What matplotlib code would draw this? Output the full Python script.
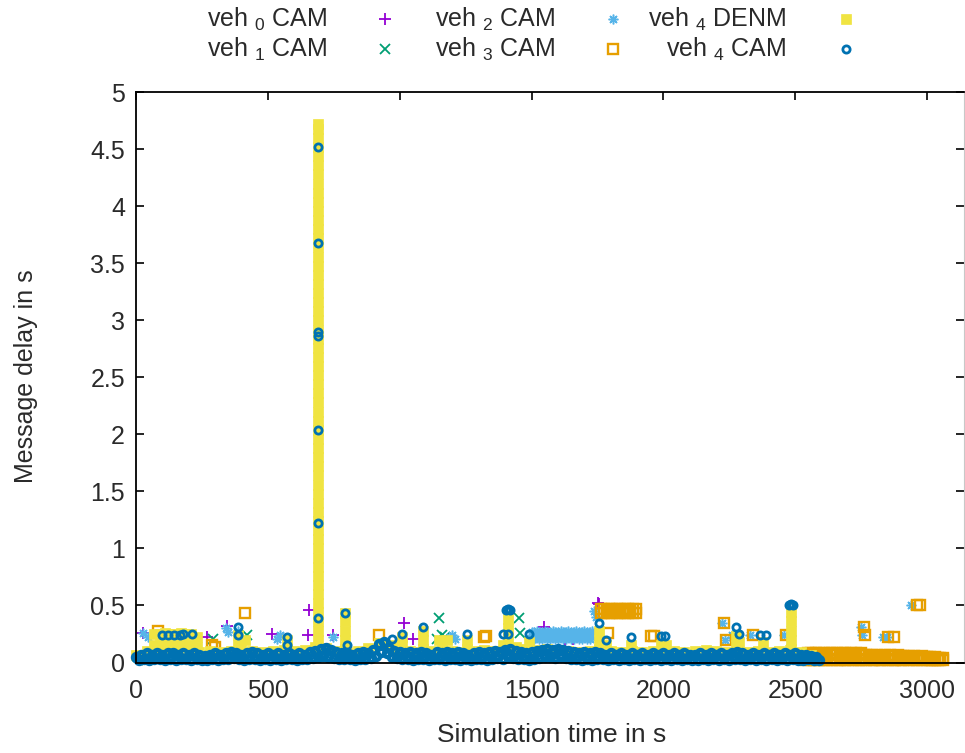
import numpy as np
import matplotlib.pyplot as plt

plt.rcParams['font.family'] = ['Liberation Sans', 'DejaVu Sans']
plt.rcParams['mathtext.fontset'] = 'custom'
plt.rcParams['mathtext.rm'] = 'Liberation Sans'
plt.rcParams['mathtext.it'] = 'Liberation Sans:italic'

# ---------------- data ----------------
# veh0 CAM
v0_t = [5, 27, 270, 345, 516, 653, 656, 748, 1016, 1052, 1546, 1627, 1657, 1751, 1755]
v0_d = [0.03, 0.26, 0.22, 0.32, 0.25, 0.24, 0.46, 0.24, 0.35, 0.21, 0.31, 0.20, 0.21, 0.52, 0.51]

# veh1 CAM
v1_t = [8, 40, 292, 421, 1143, 1150, 1160, 1172, 1451, 1455]
v1_d = [0.05, 0.02, 0.21, 0.24, 0.21, 0.39, 0.24, 0.22, 0.39, 0.26]

# veh2 CAM
v2_t = [27, 45, 340, 350, 385, 536, 545, 748, 1190, 1200, 1210,
        1736, 1745, 2222, 2232, 2262, 2330, 2458, 2750, 2754, 2832, 2848, 2940]
v2_d = [0.26, 0.22, 0.30, 0.27, 0.28, 0.21, 0.24, 0.22, 0.22, 0.24, 0.21,
        0.45, 0.40, 0.35, 0.20, 0.24, 0.24, 0.24, 0.31, 0.24, 0.22, 0.22, 0.50]
v2_bar_t = [1500, 1510, 1520, 1530, 1540, 1550, 1560, 1570, 1580, 1590, 1600, 1610,
            1620, 1630, 1640, 1650, 1660, 1670, 1680, 1690, 1700, 1710, 1720, 1730]
v2_bar_lo = [0.21, 0.21, 0.22, 0.21, 0.21, 0.22, 0.21, 0.21, 0.22, 0.21, 0.21, 0.22,
             0.21, 0.21, 0.22, 0.21, 0.21, 0.22, 0.21, 0.21, 0.22, 0.21, 0.21, 0.22]
v2_bar_mid = [0.24, 0.25, 0.24, 0.24, 0.25, 0.24, 0.24, 0.25, 0.24, 0.24, 0.25, 0.24,
              0.24, 0.25, 0.24, 0.24, 0.25, 0.24, 0.24, 0.25, 0.24, 0.24, 0.25, 0.24]
v2_bar_hi = [0.27, 0.27, 0.28, 0.27, 0.27, 0.28, 0.27, 0.27, 0.28, 0.27, 0.27, 0.28,
             0.27, 0.27, 0.28, 0.27, 0.27, 0.28, 0.27, 0.27, 0.28, 0.27, 0.27, 0.28]

# veh3 CAM
v3_t = [84, 289, 300, 414, 920, 1318, 1326, 1790,
        1953, 1963, 2230, 2236, 2338, 2466, 2762, 2766, 2853, 2876, 2960, 2975]
v3_d = [0.28, 0.15, 0.14, 0.43, 0.24, 0.22, 0.23, 0.26,
        0.23, 0.23, 0.35, 0.20, 0.24, 0.24, 0.31, 0.24, 0.22, 0.22, 0.50, 0.50]
v3_bar_t = [1765, 1775, 1785, 1795, 1805, 1815, 1825, 1835, 1845, 1855, 1865, 1875, 1885, 1895]
v3_bar_lo = [0.43, 0.43, 0.44, 0.43, 0.43, 0.44, 0.43, 0.43, 0.44, 0.43, 0.43, 0.44, 0.43, 0.43]
v3_bar_hi = [0.47, 0.47, 0.46, 0.47, 0.47, 0.46, 0.47, 0.47, 0.46, 0.47, 0.47, 0.46, 0.47, 0.47]
v3_band_t = np.arange(2540, 3070, 10)
v3_band_d = [0.07, 0.08, 0.08, 0.07, 0.08, 0.08, 0.07, 0.08, 0.07, 0.08,
             0.08, 0.07, 0.08, 0.07, 0.08, 0.08, 0.07, 0.08, 0.07, 0.08,
             0.07, 0.08, 0.07, 0.07, 0.06, 0.07, 0.06, 0.07, 0.06, 0.06,
             0.07, 0.06, 0.07, 0.06, 0.06, 0.07, 0.06, 0.06, 0.05, 0.06,
             0.05, 0.06, 0.05, 0.05, 0.06, 0.05, 0.05, 0.05, 0.04, 0.05,
             0.04, 0.04, 0.04]
v3_base_d = [0.02, 0.03, 0.02, 0.02, 0.03, 0.02, 0.03, 0.02, 0.02, 0.03,
             0.02, 0.03, 0.02, 0.02, 0.03, 0.02, 0.02, 0.03, 0.02, 0.03,
             0.02, 0.02, 0.03, 0.02, 0.03, 0.02, 0.02, 0.03, 0.02, 0.02,
             0.03, 0.02, 0.03, 0.02, 0.02, 0.03, 0.02, 0.02, 0.03, 0.02,
             0.03, 0.02, 0.02, 0.03, 0.02, 0.03, 0.02, 0.02, 0.02, 0.02,
             0.02, 0.02, 0.02]

# veh4 DENM
denm_t = [691] * 59 + [70, 90, 110, 130, 150, 170, 190, 210, 230,
                       70, 90, 110, 130, 150, 170, 190, 210, 230,
                       388, 388, 414, 574, 574, 794, 794, 794, 794, 794,
                       920, 972, 1010, 1010, 1087, 1087, 1087, 1150, 1180, 1257, 1257,
                       1390, 1410, 1410, 1410, 1410, 1490, 1755, 1755, 1755, 1782, 1877,
                       1990, 2010, 2276, 2276, 2287, 2378, 2485, 2485, 2485, 2485, 2485]
denm_d = [0.12, 0.20, 0.28, 0.36, 0.44, 0.52, 0.60, 0.68, 0.76, 0.84, 0.92, 1.00, 1.08, 1.16,
          1.24, 1.32, 1.40, 1.48, 1.56, 1.64, 1.72, 1.80, 1.88, 1.96, 2.04, 2.12, 2.20, 2.28,
          2.36, 2.44, 2.52, 2.60, 2.68, 2.76, 2.84, 2.92, 3.00, 3.08, 3.16, 3.24, 3.32, 3.40,
          3.48, 3.56, 3.64, 3.72, 3.80, 3.88, 3.96, 4.04, 4.12, 4.20, 4.28, 4.36, 4.44, 4.52,
          4.60, 4.68, 4.72,
          0.15, 0.15, 0.16, 0.15, 0.15, 0.16, 0.15, 0.15, 0.14,
          0.25, 0.25, 0.26, 0.25, 0.25, 0.26, 0.25, 0.25, 0.22,
          0.15, 0.24, 0.20, 0.13, 0.20, 0.12, 0.20, 0.28, 0.36, 0.43,
          0.15, 0.14, 0.15, 0.22, 0.12, 0.20, 0.28, 0.20, 0.20, 0.12, 0.20,
          0.15, 0.14, 0.22, 0.30, 0.38, 0.18, 0.12, 0.20, 0.28, 0.15, 0.15,
          0.15, 0.15, 0.15, 0.23, 0.18, 0.18, 0.12, 0.20, 0.28, 0.36, 0.44]
denm_band_t = np.arange(0, 2600, 40)
denm_band_d = [0.07, 0.10, 0.11, 0.10, 0.11, 0.10, 0.09, 0.10, 0.09, 0.10,
               0.11, 0.10, 0.09, 0.10, 0.11, 0.10, 0.11, 0.14, 0.13, 0.10,
               0.09, 0.10, 0.13, 0.17, 0.15, 0.11, 0.10, 0.09, 0.10, 0.11,
               0.10, 0.09, 0.10, 0.11, 0.10, 0.13, 0.14, 0.12, 0.11, 0.12,
               0.11, 0.10, 0.09, 0.10, 0.09, 0.10, 0.09, 0.10, 0.09, 0.10,
               0.09, 0.10, 0.09, 0.10, 0.11, 0.10, 0.09, 0.10, 0.09, 0.10,
               0.09, 0.10, 0.11, 0.09, 0.07]

# veh4 CAM
v4_t = [691, 691, 691, 691, 691, 691, 691,
        98, 122, 145, 167, 178, 213, 388, 388, 574, 574, 794, 801, 972, 1010, 1087,
        1257, 1390, 1405, 1412, 1418, 1410, 1490, 1755, 1782, 1877, 1990, 2005,
        2276, 2287, 2365, 2390, 2478, 2485, 2493]
v4_d = [4.52, 3.68, 2.90, 2.86, 2.04, 1.22, 0.39,
        0.24, 0.24, 0.24, 0.24, 0.25, 0.25, 0.31, 0.24, 0.22, 0.15, 0.43, 0.15, 0.21, 0.25, 0.31,
        0.25, 0.25, 0.46, 0.47, 0.46, 0.25, 0.25, 0.35, 0.20, 0.22, 0.23, 0.23,
        0.31, 0.25, 0.24, 0.24, 0.50, 0.51, 0.50]
v4_band_t = np.arange(0, 2600, 20)
v4_band_d = [0.05, 0.07, 0.08, 0.07, 0.08, 0.07, 0.08, 0.08, 0.07, 0.08,
             0.07, 0.08, 0.07, 0.06, 0.07, 0.08, 0.07, 0.08, 0.09, 0.08,
             0.07, 0.08, 0.09, 0.08, 0.07, 0.08, 0.07, 0.08, 0.07, 0.08,
             0.07, 0.08, 0.07, 0.09, 0.10, 0.12, 0.13, 0.11, 0.09, 0.08,
             0.08, 0.07, 0.08, 0.09, 0.08, 0.11, 0.16, 0.18, 0.13, 0.10,
             0.09, 0.08, 0.09, 0.08, 0.09, 0.08, 0.07, 0.09, 0.08, 0.09,
             0.08, 0.09, 0.08, 0.07, 0.08, 0.09, 0.08, 0.09, 0.10, 0.09,
             0.11, 0.12, 0.10, 0.09, 0.08, 0.09, 0.10, 0.11, 0.12, 0.11,
             0.12, 0.11, 0.10, 0.09, 0.08, 0.09, 0.08, 0.09, 0.08, 0.07,
             0.08, 0.07, 0.08, 0.07, 0.08, 0.07, 0.08, 0.07, 0.08, 0.07,
             0.08, 0.07, 0.08, 0.07, 0.08, 0.07, 0.07, 0.08, 0.07, 0.08,
             0.07, 0.08, 0.07, 0.08, 0.09, 0.08, 0.07, 0.08, 0.07, 0.08,
             0.07, 0.08, 0.07, 0.08, 0.07, 0.08, 0.07, 0.07, 0.06, 0.05]
v4_base_t = np.arange(10, 2600, 20)
v4_base_d = [0.02, 0.03, 0.02, 0.03, 0.03, 0.02, 0.03, 0.02, 0.03, 0.03,
             0.02, 0.03, 0.02, 0.02, 0.03, 0.02, 0.03, 0.03, 0.04, 0.03,
             0.02, 0.03, 0.03, 0.02, 0.03, 0.02, 0.03, 0.02, 0.03, 0.03,
             0.02, 0.03, 0.03, 0.04, 0.05, 0.06, 0.05, 0.04, 0.03, 0.03,
             0.03, 0.02, 0.03, 0.03, 0.04, 0.06, 0.09, 0.08, 0.05, 0.04,
             0.03, 0.03, 0.02, 0.03, 0.03, 0.02, 0.03, 0.03, 0.02, 0.03,
             0.03, 0.02, 0.03, 0.02, 0.03, 0.03, 0.02, 0.03, 0.04, 0.03,
             0.05, 0.04, 0.03, 0.03, 0.02, 0.03, 0.04, 0.05, 0.05, 0.04,
             0.05, 0.04, 0.03, 0.03, 0.02, 0.03, 0.02, 0.03, 0.03, 0.02,
             0.03, 0.02, 0.03, 0.02, 0.03, 0.02, 0.03, 0.02, 0.03, 0.02,
             0.03, 0.02, 0.03, 0.02, 0.03, 0.02, 0.02, 0.03, 0.02, 0.03,
             0.02, 0.03, 0.02, 0.03, 0.03, 0.02, 0.03, 0.02, 0.03, 0.02,
             0.03, 0.02, 0.03, 0.02, 0.03, 0.02, 0.02, 0.03, 0.02, 0.02]

labels = ['veh $_0$ CAM', 'veh $_1$ CAM', 'veh $_2$ CAM',
          'veh $_3$ CAM', 'veh $_4$ DENM', 'veh $_4$ CAM']

# gnuplot default colours / point types
c_purple, c_green, c_lblue = '#9400D3', '#009E73', '#56B4E9'
c_orange, c_yellow, c_blue = '#E69F00', '#F0E442', '#0072B2'
star = (8, 2, 0)

st0 = dict(marker='+', color=c_purple, ms=8, mew=1.3)
st1 = dict(marker='x', color=c_green, ms=6.5, mew=1.3)
st2 = dict(marker=star, color=c_lblue, ms=7, mew=1.1)
st3 = dict(marker='s', color=c_orange, mfc='none', mec=c_orange, ms=6.5, mew=1.7)
st4 = dict(marker='s', color=c_yellow, mec=c_yellow, ms=7.5, mew=0.5)
st5 = dict(marker='o', color=c_blue, mfc='none', mec=c_blue, ms=5.2, mew=2.0)
st5_band = dict(st5, mew=3.0)
tc = '#2a2a2a'

fs = 18
fig = plt.figure(figsize=(9.65, 7.53), dpi=100)
ax = fig.add_axes([136 / 965, 1 - 662.5 / 753, 828 / 965, (662.5 - 92.3) / 753])


def dots(t, d, st):
    ax.plot(t, d, ls='none', clip_on=False, **st)


dots(v0_t, v0_d, st0)
dots(v1_t, v1_d, st1)
dots(v2_t, v2_d, st2)
for row in (v2_bar_lo, v2_bar_mid, v2_bar_hi):
    dots(v2_bar_t, row, st2)
dots(v3_band_t, v3_base_d, st3)
dots(v3_band_t, v3_band_d, st3)
dots(v3_bar_t, v3_bar_lo, st3)
dots(v3_bar_t, v3_bar_hi, st3)
dots(v3_t, v3_d, st3)
dots(denm_band_t, denm_band_d, st4)
dots(denm_t, denm_d, st4)
dots(v4_base_t, v4_base_d, st5_band)
dots(v4_band_t, v4_band_d, st5_band)
dots(v4_t, v4_d, st5)

ax.set_xlim(0, 3140)
ax.set_ylim(0, 5)
ax.set_xticks(np.arange(0, 3001, 500))
ax.set_yticks(np.arange(0, 5.01, 0.5))
ax.yaxis.set_major_formatter(plt.FormatStrFormatter('%g'))
ax.tick_params(direction='in', length=6, width=1.2, top=True, right=True,
               labelsize=fs, labelcolor=tc)
ax.tick_params(axis='x', pad=12)
ax.tick_params(axis='y', pad=8)
for s in ['left', 'top', 'bottom']:
    ax.spines[s].set_linewidth(1.3)
ax.spines['right'].set_color('#c8c8c8')
ax.spines['right'].set_linewidth(0.8)

fig.text(552 / 965, 1 - 735 / 753, 'Simulation time in s', ha='center', va='center',
         fontsize=19, color=tc)
fig.text(26 / 965, 1 - 376 / 753, 'Message delay in s', ha='center', va='center',
         rotation=90, fontsize=fs, color=tc)

# key above the plot, text right-justified before the sample
lax = fig.add_axes([0, 0, 1, 1])
lax.set_xlim(0, 965)
lax.set_ylim(753, 0)
lax.axis('off')
key_text_x = [327, 327, 555, 555, 786, 786]
key_mark_x = [385, 385, 613, 613, 846, 846]
key_row = [0, 1, 0, 1, 0, 1]
for lab, tx, mx, r, st in zip(labels, key_text_x, key_mark_x, key_row,
                              [st0, st1, st2, st3, st4, st5]):
    lax.text(tx, 27 + 30 * r, lab, ha='right', va='baseline', fontsize=fs, color=tc)
    lax.plot([mx], [19 + 30 * r], ls='none', **st)

fig.savefig('out.png', dpi=100)
